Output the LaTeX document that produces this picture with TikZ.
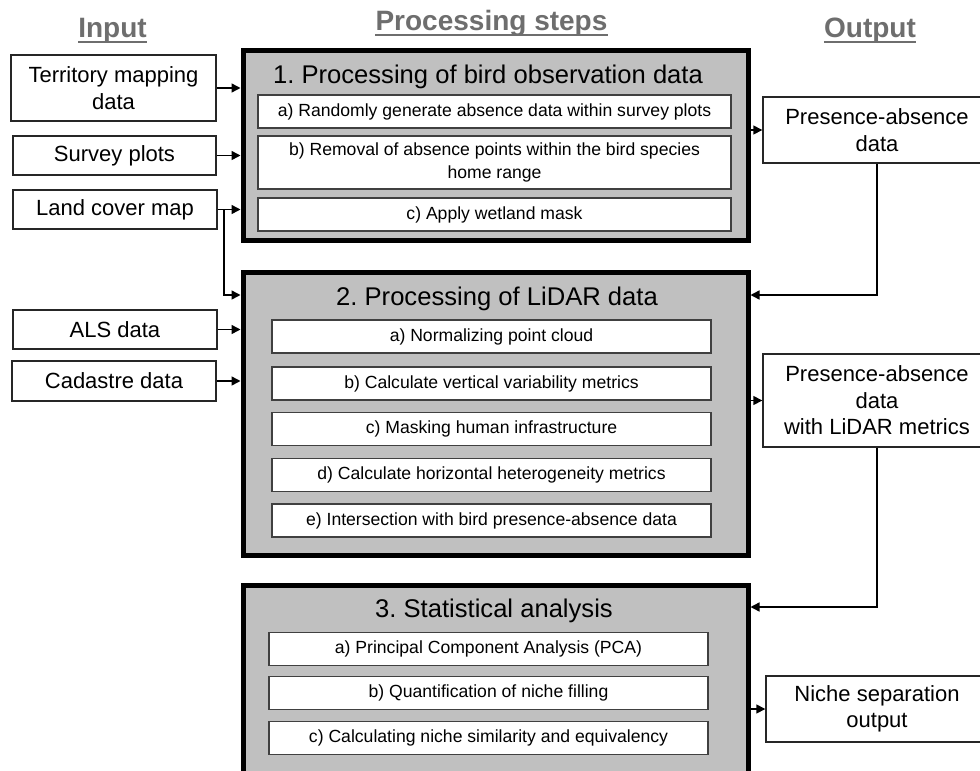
\documentclass[tikz,border=0pt]{standalone}
\usepackage{fontspec}
\setmainfont{Liberation Sans}
\usetikzlibrary{arrows.meta}
\definecolor{boxgray}{HTML}{C0C0C0}
\definecolor{headgray}{HTML}{6E6E6E}
\definecolor{subline}{HTML}{404040}
\frenchspacing
\begin{document}
\begin{tikzpicture}[x=1pt,y=-1pt,
 bigbox/.style={draw=black, line width=5pt, fill=boxgray, inner sep=0pt, minimum width=505pt},
 subbox/.style={draw=subline, line width=1.4pt, fill=white, inner sep=0pt, align=center, font=\fontsize{17.6}{23}\selectfont},
 iobox/.style={draw=black!85, line width=1.4pt, fill=white, inner sep=0pt, align=center, font=\fontsize{22}{26.5}\selectfont},
 boxtitle/.style={font=\fontsize{25.6}{30}\selectfont, inner sep=0pt, anchor=base},
 heading/.style={font=\bfseries\fontsize{28}{32}\selectfont, text=headgray, inner sep=0pt, anchor=base},
 headline/.style={draw=headgray, line width=2pt},
 arr/.style={draw=black, line width=1.5pt, -{Triangle[length=9pt,width=9pt]}},
 ln/.style={draw=black, line width=1.5pt}]
\useasboundingbox (0,0) rectangle (980,771);

% headings
\node[heading] (hin) at (112.5,37) {Input};
\node[heading] (hproc) at (491.5,30.5) {Processing steps};
\node[heading] (hout) at (870,37) {Output};
\draw[headline] ([yshift=-4.5pt]hin.base west) -- ([yshift=-4.5pt]hin.base east);
\draw[headline] ([yshift=-4.5pt]hproc.base west) -- ([yshift=-4.5pt]hproc.base east);
\draw[headline] ([yshift=-4.5pt]hout.base west) -- ([yshift=-4.5pt]hout.base east);

% big boxes
\node[bigbox, minimum height=190pt] (p1) at (495.5,145) {};
\node[bigbox, minimum height=283pt] (p2) at (495.5,413.5) {};
\node[bigbox, minimum height=205pt] (p3) at (495.5,687.5) {};

\node[boxtitle] (t1) at (488,83) {1. Processing of bird observation data};
\node[boxtitle] (t2) at (497,305) {2. Processing of LiDAR data};
\node[boxtitle] (t3) at (494,617) {3. Statistical analysis};

% sub boxes 1
\node[subbox, minimum width=473pt, minimum height=33pt] (s1a) at (494.5,111.5) {a) Randomly generate absence data within survey plots};
\node[subbox, minimum width=473pt, minimum height=53pt] (s1b) at (494.5,162.5) {b) Removal of absence points within the bird species\\home range};
\node[subbox, minimum width=473pt, minimum height=33pt] (s1c) at (494.5,214.5) {c) Apply wetland mask};

% sub boxes 2
\node[subbox, minimum width=439pt, minimum height=33pt] (s2a) at (491.5,336.5) {a) Normalizing point cloud};
\node[subbox, minimum width=439pt, minimum height=33pt] (s2b) at (491.5,383.5) {b) Calculate vertical variability metrics};
\node[subbox, minimum width=439pt, minimum height=33pt] (s2c) at (491.5,429) {c) Masking human infrastructure};
\node[subbox, minimum width=439pt, minimum height=33pt] (s2d) at (491.5,475) {d) Calculate horizontal heterogeneity metrics};
\node[subbox, minimum width=439pt, minimum height=33pt] (s2e) at (491.5,520.5) {e) Intersection with bird presence-absence data};

% sub boxes 3
\node[subbox, minimum width=439pt, minimum height=33pt] (s3a) at (488.5,649) {a) Principal Component Analysis (PCA)};
\node[subbox, minimum width=439pt, minimum height=33pt] (s3b) at (488.5,693) {b) Quantification of niche filling};
\node[subbox, minimum width=439pt, minimum height=33pt] (s3c) at (488.5,738) {c) Calculating niche similarity and equivalency};

% inputs
\node[iobox, minimum width=205pt, minimum height=66pt] (terr) at (113.5,88) {Territory mapping\\data};
\node[iobox, minimum width=203pt, minimum height=39pt] (surv) at (114.5,155.5) {Survey plots};
\node[iobox, minimum width=204pt, minimum height=39pt] (land) at (115,209.5) {Land cover map};
\node[iobox, minimum width=204pt, minimum height=39pt] (als) at (115,329.5) {ALS data};
\node[iobox, minimum width=204pt, minimum height=40pt] (cad) at (114,381) {Cadastre data};

% outputs
\node[iobox, minimum width=228pt, minimum height=66pt] (out1) at (877,130) {Presence-absence\\data};
\node[iobox, minimum width=228pt, minimum height=93pt] (out2) at (877,400.5) {Presence-absence\\data\\with LiDAR metrics};
\node[iobox, minimum width=222pt, minimum height=66pt] (niche) at (877,709) {Niche separation\\output};

% joints
\coordinate (j0) at (224,295);
\coordinate (jl) at (224,209.5);
\coordinate (j1) at (877,295);
\coordinate (j2) at (877,607);

% connectors inputs
\draw[arr] (terr.east) -- (terr.east -| p1.west);
\draw[arr] (surv.east) -- (surv.east -| p1.west);
\draw[arr] (land.east) -- (land.east -| p1.west);
\draw[arr] (jl) |- (p2.west |- j0);
\draw[arr] (als.east) -- (als.east -| p2.west);
\draw[arr] (cad.east) -- (cad.east -| p2.west);

% connectors outputs
\draw[arr] (p1.east |- out1.west) -- (out1.west);
\draw[arr] (out1.south) |- (p2.east |- j1);
\draw[arr] (p2.east |- out2.west) -- (out2.west);
\draw[arr] (out2.south) |- (p3.east |- j2);
\draw[arr] (p3.east |- niche.west) -- (niche.west);
\end{tikzpicture}
\end{document}
